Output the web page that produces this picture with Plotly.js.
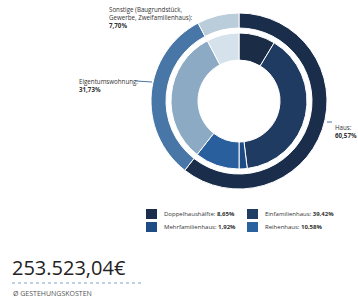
<!DOCTYPE html>
<html><head><meta charset="utf-8">
<script src="https://cdn.plot.ly/plotly-3.0.1.min.js"></script>
<style>html,body{margin:0;padding:0;background:#fff}#c{width:358px;height:299px}</style>
</head><body><div id="c"></div>
<script>
// Outer ring
const outerLabels = ["Haus", "Eigentumswohnung", "Sonstige (Baugrundstück, Gewerbe, Zweifamilienhaus)"];
const outerValues = [60.57, 31.73, 7.70];
const outerColors = ["#1a2d4a", "#4876a6", "#b9cdda"];
// Inner ring
const innerLabels = ["Doppelhaushälfte", "Einfamilienhaus", "Mehrfamilienhaus", "Reihenhaus", "Eigentumswohnung", "Sonstige"];
const innerValues = [8.65, 39.42, 1.92, 10.58, 31.73, 7.70];
const innerColors = ["#1b2c47", "#1f3b62", "#1e4b84", "#2a5f9d", "#8caac4", "#d5e2eb"];
// Legend (Haus breakdown)
const legendLabels = ["Doppelhaushälfte", "Einfamilienhaus", "Mehrfamilienhaus", "Reihenhaus"];
const legendValues = [8.65, 39.42, 1.92, 10.58];
const legendColors = ["#1b2d4a", "#1f3c63", "#1e4d86", "#2a62a0"];
const totalCost = "253.523,04€";
const totalLabel = "Ø GESTEHUNGSKOSTEN";

const W = 358, H = 299;
const fmt = v => v.toFixed(2).replace('.', ',') + '%';
const FONT = '"Open Sans", sans-serif';

function dom(cx, cy, r) {
  return {x: [(cx - r) / W, (cx + r) / W], y: [(H - cy - r) / H, (H - cy + r) / H]};
}
const cx = 239, cy = 101;

const data = [
  {type: 'pie', labels: outerLabels, values: outerValues, sort: false, direction: 'clockwise', rotation: 0,
   hole: 73 / 88, domain: dom(cx, cy, 88), textinfo: 'none', hoverinfo: 'label+percent',
   marker: {colors: outerColors, line: {color: '#fff', width: 1}}, showlegend: false},
  {type: 'pie', labels: innerLabels, values: innerValues, sort: false, direction: 'clockwise', rotation: 0,
   hole: 41 / 68, domain: dom(cx, cy, 68), textinfo: 'none', hoverinfo: 'label+percent',
   marker: {colors: innerColors, line: {color: '#fff', width: 1}}, showlegend: false}
];

const ann = [];
const shapes = [];
const px = x => x / W, py = y => 1 - y / H;
function txt(x, y, t, size, color, anchor, extra) {
  ann.push(Object.assign({x: px(x), y: py(y), xref: 'paper', yref: 'paper', text: t, showarrow: false,
    xanchor: anchor || 'left', yanchor: 'middle', align: 'left',
    font: {family: FONT, size: size, color: color}}, extra || {}));
}
// Slice labels
txt(107, 18, outerLabels[2].replace('Baugrundstück, ', 'Baugrundstück,<br>') + ':<br><b>' + fmt(outerValues[2]) + '</b>', 6.2, '#333', 'left');
txt(77, 85.5, outerLabels[1] + ':<br><b>' + fmt(outerValues[1]) + '</b>', 6.2, '#333', 'left');
txt(333, 131.5, outerLabels[0] + ':<br><b>' + fmt(outerValues[0]) + '</b>', 6.2, '#333', 'left');
// leader lines
const ln = (x0, y0, x1, y1) => shapes.push({type: 'line', xref: 'paper', yref: 'paper', x0: px(x0), y0: py(y0), x1: px(x1), y1: py(y1), line: {color: '#4876a6', width: 1}});
ln(136, 81, 152, 82);
ln(327, 122, 332, 122);

// legend
legendLabels.forEach((l, i) => {
  const col = i % 2, row = Math.floor(i / 2);
  const x = col === 0 ? 146 : 247, y = row === 0 ? 214 : 227;
  shapes.push({type: 'rect', xref: 'paper', yref: 'paper', x0: px(x), x1: px(x + 11), y0: py(y - 5), y1: py(y + 5), fillcolor: legendColors[i], line: {width: 0}});
  txt(x + 16, y, l + ': <b>' + fmt(legendValues[i]) + '</b>', 6, '#333', 'left');
});

// total
txt(10, 267, totalCost, 20, '#222', 'left');
shapes.push({type: 'line', xref: 'paper', yref: 'paper', x0: px(12), x1: px(142), y0: py(283), y1: py(283), line: {color: '#7fa3c8', width: 1, dash: 'dot'}});
txt(11, 293, totalLabel, 7, '#555', 'left');

Plotly.newPlot('c', data, {
  width: W, height: H, margin: {l: 0, r: 0, t: 0, b: 0},
  paper_bgcolor: '#fff', plot_bgcolor: '#fff', showlegend: false,
  annotations: ann, shapes: shapes
}, {staticPlot: true});
</script></body></html>
